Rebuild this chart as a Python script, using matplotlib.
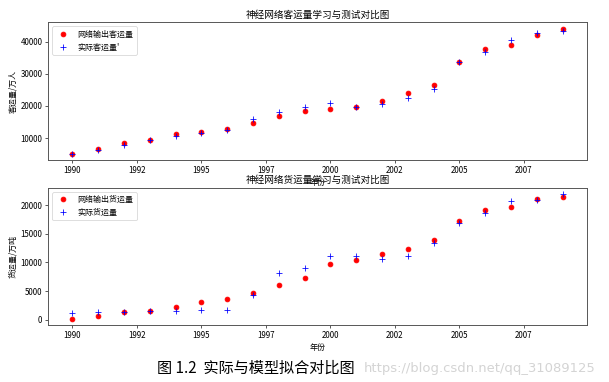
import numpy as np
import matplotlib
matplotlib.use('Agg')
import matplotlib.pyplot as plt
from matplotlib.ticker import MultipleLocator, FuncFormatter

plt.rcParams['font.family'] = ['Noto Sans CJK SC', 'DejaVu Sans']
plt.rcParams['axes.unicode_minus'] = False

years = np.arange(1990, 2010)

# passenger volume (10k persons)
passenger_pred = [5150, 6490, 8350, 9500, 11240, 11980, 12800, 14780, 16960, 18290,
                  18910, 19630, 21600, 23880, 26580, 33600, 37640, 38790, 42110, 43970]
passenger_real = [5100, 6400, 7730, 9300, 10620, 11460, 12480, 15800, 18200, 19750,
                  21000, 19600, 20470, 22530, 25120, 33600, 36830, 40430, 42520, 43230]

# freight volume (10k tons)
freight_pred = [170, 630, 1320, 1610, 2180, 3050, 3680, 4660, 6090, 7360,
                9660, 10340, 11490, 12410, 13960, 17240, 19140, 19660, 21030, 21430]
freight_real = [1200, 1430, 1380, 1450, 1610, 1670, 1780, 4310, 8160, 8970,
                11090, 11150, 10520, 11090, 13390, 16840, 18670, 20750, 20860, 21900]

dpi = 57.6
fig = plt.figure(figsize=(10.574, 6.633), dpi=dpi)

ax1 = fig.add_axes([0.0788, 0.581, 0.885, 0.360])
ax1.plot(years, passenger_pred, 'ro', label='网络输出客运量')
ax1.plot(years, passenger_real, 'b+', markersize=7, label="实际客运量'")
ax1.set_title('神经网络客运量学习与测试对比图')
ax1.set_xlabel('年份')
ax1.set_ylabel('客运量/万人')
ax1.legend(loc='upper left')

ax2 = fig.add_axes([0.0788, 0.149, 0.885, 0.359])
ax2.plot(years, freight_pred, 'ro', label='网络输出货运量')
ax2.plot(years, freight_real, 'b+', markersize=7, label='实际货运量')
ax2.set_title('神经网络货运量学习与测试对比图')
ax2.set_xlabel('年份')
ax2.set_ylabel('货运量/万吨')
ax2.legend(loc='upper left')

for ax in (ax1, ax2):
    ax.xaxis.set_major_locator(MultipleLocator(2.5))
    ax.xaxis.set_major_formatter(FuncFormatter(lambda v, p: str(int(v))))
    for s in ax.spines.values():
        s.set_edgecolor('#555555')
        s.set_linewidth(1.2)

fig.text(0.258, 0.036, '图 1.2  实际与模型拟合对比图', fontsize=19, va='center')
fig.text(0.597, 0.036, 'https://blog.csdn.net/qq_31089125', fontsize=16.5,
         color='#d4d4d4', va='center', ha='left', family='DejaVu Sans')

fig.savefig('out.png', dpi=dpi)
